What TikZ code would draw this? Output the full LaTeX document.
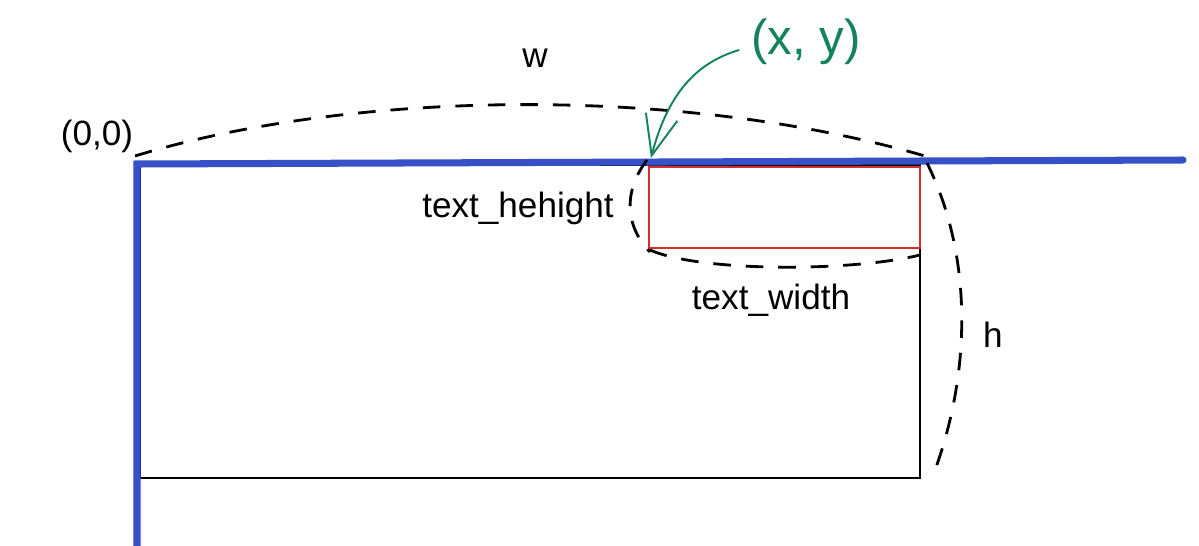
\documentclass[tikz,border=0pt]{standalone}
\usepackage{fontspec}
\setmainfont{Liberation Sans}
\usetikzlibrary{arrows.meta,positioning}
\definecolor{axblue}{RGB}{55,80,200}
\definecolor{boxred}{RGB}{215,45,45}
\definecolor{ptgreen}{RGB}{20,130,90}

\begin{document}
\begin{tikzpicture}[x=0.02cm,y=-0.02cm,font=\fontsize{20}{24}\selectfont,
    dim/.style={line width=1.6pt,dash pattern=on 10pt off 8.5pt},
    lbl/.style={inner sep=1pt}]
    \useasboundingbox (0,0) rectangle (1199,545);
    % frame and boxes
    \coordinate (o) at (137,164); \coordinate (xend) at (1183,160); \coordinate (yend) at (137,548);
    \draw[black,line width=1pt] (140,165) rectangle (920,478);
    \draw[boxred,line width=0.9pt] (649,167) rectangle (920,248);
    \draw[axblue,line width=4pt,line cap=round] (yend)--(o)--(xend);
    % points on the dimensions
    \coordinate (wa) at (135,156); \coordinate (wb) at (925,156);
    \coordinate (pt) at (651,158);
    \coordinate (tha) at (647,160); \coordinate (thb) at (650,252);
    \coordinate (twa) at (650,250); \coordinate (twb) at (920,255);
    \coordinate (ha) at (927,163); \coordinate (hb) at (932,478);
    % labels
    \node[lbl] (orig) at (97,136) {(0,0)};
    \node[lbl] (wlbl) at (535,58) {w};
    \node[lbl] (thlbl) at (518,208) {text\_hehight};
    \node[lbl] (twlbl) at (771,300) {text\_width};
    \node[lbl] (hlbl) at (993,335) {h};
    \node[lbl,text=ptgreen,font=\fontsize{28}{32}\selectfont] (xy) at (806,42) {(x, y)};
    % dimension curves
    \draw[dim] (wa) .. controls (350,90) and (680,85) .. (wb);
    \draw[dim] (tha) .. controls (624,190) and (624,225) .. (thb);
    \draw[dim] (twa) .. controls (700,272) and (850,272) .. (twb);
    \draw[dim] (ha) .. controls (975,260) and (970,380) .. (hb);
    \draw[ptgreen,line width=1.1pt,-{Straight Barb[length=8mm,width=6.5mm]}] (xy.west) ++(-10,8) .. controls (698,62) and (668,92) .. (pt);
\end{tikzpicture}
\end{document}
